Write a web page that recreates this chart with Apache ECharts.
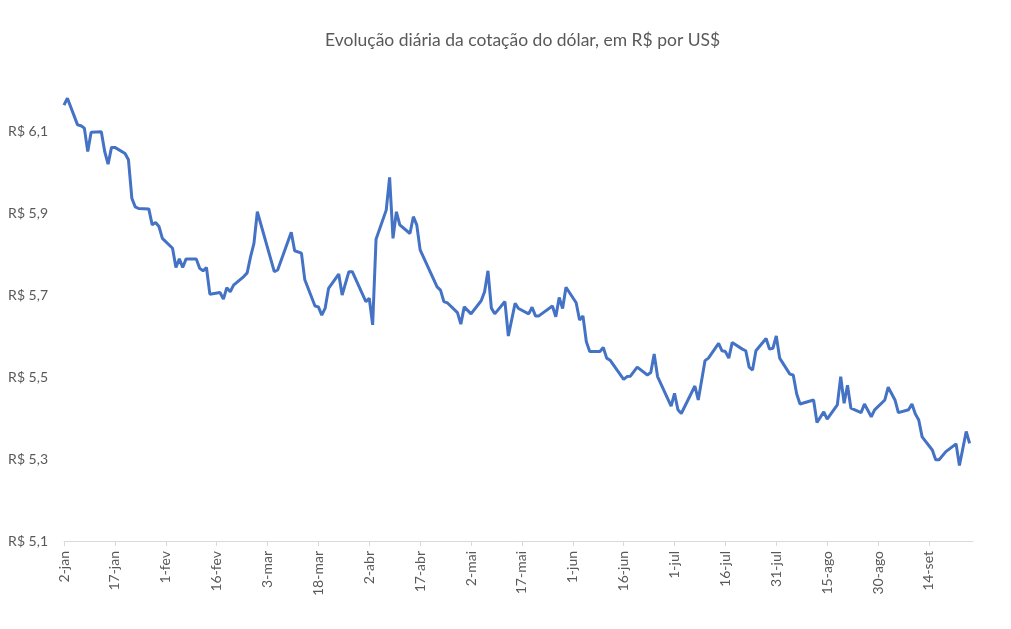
<!DOCTYPE html>
<html lang="pt-BR">
<head>
    <meta charset="UTF-8">
    <title>Cotação do dólar</title>
    <script src="https://cdn.jsdelivr.net/npm/echarts@6/dist/echarts.min.js"></script>
</head>
<body style="height: 100%; margin: 0; background: #fff;">
<div id="container" style="width: 1011px; height: 629px;"></div>
<script type="text/javascript">

    // datas (dia/mês, 2025) e cotação em R$ por US$
    let dates = [
        '02/01', '03/01', '06/01', '07/01', '08/01', '09/01', '10/01', '13/01', '14/01', '15/01',
        '16/01', '17/01', '20/01', '21/01', '22/01', '23/01', '24/01', '27/01', '28/01', '29/01',
        '30/01', '31/01', '03/02', '04/02', '05/02', '06/02', '07/02', '10/02', '11/02', '12/02',
        '13/02', '14/02', '17/02', '18/02', '19/02', '20/02', '21/02', '24/02', '25/02', '26/02',
        '27/02', '28/02', '05/03', '06/03', '10/03', '11/03', '13/03', '14/03', '17/03', '18/03',
        '19/03', '20/03', '21/03', '24/03', '25/03', '27/03', '28/03', '01/04', '02/04', '03/04',
        '04/04', '07/04', '08/04', '09/04', '10/04', '11/04', '14/04', '15/04', '16/04', '17/04',
        '22/04', '23/04', '24/04', '25/04', '28/04', '29/04', '30/04', '02/05', '05/05', '06/05',
        '07/05', '08/05', '09/05', '12/05', '13/05', '15/05', '16/05', '19/05', '20/05', '21/05',
        '22/05', '26/05', '27/05', '28/05', '29/05', '30/05', '02/06', '03/06', '04/06', '05/06',
        '06/06', '09/06', '10/06', '11/06', '12/06', '16/06', '17/06', '18/06', '20/06', '23/06',
        '24/06', '25/06', '26/06', '30/06', '01/07', '02/07', '03/07', '07/07', '08/07', '10/07',
        '11/07', '14/07', '15/07', '16/07', '17/07', '18/07', '21/07', '22/07', '23/07', '24/07',
        '25/07', '28/07', '29/07', '30/07', '31/07', '01/08', '04/08', '05/08', '06/08', '07/08',
        '11/08', '12/08', '14/08', '15/08', '18/08', '19/08', '20/08', '21/08', '22/08', '25/08',
        '26/08', '28/08', '29/08', '01/09', '02/09', '04/09', '05/09', '08/09', '09/09', '10/09',
        '11/09', '12/09', '15/09', '16/09', '17/09', '19/09', '22/09', '23/09', '25/09', '26/09'
    ];

    let values = [
        6.163, 6.180, 6.115, 6.113, 6.107, 6.050, 6.097, 6.098, 6.050, 6.019,
        6.060, 6.060, 6.045, 6.030, 5.936, 5.915, 5.911, 5.910, 5.871, 5.877,
        5.867, 5.838, 5.814, 5.767, 5.788, 5.767, 5.788, 5.788, 5.765, 5.759,
        5.767, 5.702, 5.706, 5.690, 5.718, 5.708, 5.724, 5.745, 5.754, 5.793,
        5.826, 5.903, 5.757, 5.761, 5.853, 5.808, 5.802, 5.737, 5.673, 5.671,
        5.651, 5.668, 5.716, 5.751, 5.700, 5.757, 5.757, 5.684, 5.692, 5.627,
        5.836, 5.907, 5.987, 5.838, 5.903, 5.871, 5.850, 5.891, 5.871, 5.810,
        5.720, 5.712, 5.684, 5.681, 5.657, 5.629, 5.671, 5.654, 5.686, 5.708,
        5.759, 5.668, 5.654, 5.684, 5.600, 5.680, 5.667, 5.654, 5.670, 5.649,
        5.649, 5.673, 5.647, 5.694, 5.667, 5.719, 5.681, 5.639, 5.649, 5.586,
        5.562, 5.562, 5.572, 5.546, 5.541, 5.494, 5.501, 5.502, 5.524, 5.505,
        5.511, 5.556, 5.501, 5.429, 5.460, 5.420, 5.411, 5.478, 5.444, 5.540,
        5.546, 5.582, 5.564, 5.562, 5.546, 5.584, 5.568, 5.564, 5.524, 5.517,
        5.564, 5.594, 5.568, 5.570, 5.600, 5.546, 5.507, 5.505, 5.459, 5.434,
        5.444, 5.389, 5.415, 5.397, 5.432, 5.501, 5.436, 5.480, 5.424, 5.413,
        5.434, 5.403, 5.420, 5.444, 5.475, 5.444, 5.413, 5.420, 5.434, 5.410,
        5.395, 5.354, 5.322, 5.298, 5.298, 5.318, 5.337, 5.284, 5.367, 5.338
    ];

    // rótulos do eixo horizontal (a cada 15 dias)
    let tickLabels = ['2-jan', '17-jan', '1-fev', '16-fev', '3-mar', '18-mar', '2-abr', '17-abr', '2-mai',
        '17-mai', '1-jun', '16-jun', '1-jul', '16-jul', '31-jul', '15-ago', '30-ago', '14-set'];

    // rótulos do eixo vertical
    let yTicks = [5.1, 5.3, 5.5, 5.7, 5.9, 6.1];

    let months = ['jan', 'fev', 'mar', 'abr', 'mai', 'jun', 'jul', 'ago', 'set', 'out', 'nov', 'dez'];
    let start = Date.UTC(2025, 0, 2);

    function dayOf(d, m) {
        return (Date.UTC(2025, m - 1, d) - start) / 86400000;
    }

    let seriesData = dates.map(function (s, i) {
        let p = s.split('/');
        return [dayOf(+p[0], +p[1]), values[i]];
    });

    let tickDays = tickLabels.map(function (s) {
        let p = s.split('-');
        return dayOf(+p[0], months.indexOf(p[1]) + 1);
    });

    let textColor = '#595959';
    let font = 'Lato, "Open Sans", sans-serif';

    let chart = echarts.init(document.getElementById('container'));
    chart.setOption({
        animation: false,
        title: {
            text: 'Evolução diária da cotação do dólar, em R$ por US$',
            left: 320,
            top: 26,
            textStyle: {color: textColor, fontSize: 17.5, fontWeight: 'normal', fontFamily: font}
        },
        grid: {left: 64, right: 38, top: 90, bottom: 88},
        xAxis: {
            type: 'value',
            min: 0,
            max: 268,
            splitLine: {show: false},
            axisLine: {show: true, lineStyle: {color: '#d9d9d9', width: 1}},
            axisTick: {show: true, length: 5, customValues: tickDays, lineStyle: {color: '#d9d9d9'}},
            axisLabel: {
                customValues: tickDays,
                rotate: 90,
                margin: 10,
                color: textColor,
                fontSize: 14,
                fontFamily: font,
                formatter: function (v) {
                    let i = tickDays.indexOf(v);
                    return i >= 0 ? tickLabels[i] : '';
                }
            }
        },
        yAxis: {
            type: 'value',
            min: 5.1,
            max: 6.2,
            splitLine: {show: false},
            axisLine: {show: false},
            axisTick: {show: false},
            axisLabel: {
                customValues: yTicks,
                margin: 16,
                color: textColor,
                fontSize: 14,
                fontFamily: font,
                formatter: function (v) {
                    return 'R$ ' + v.toFixed(1).replace('.', ',');
                }
            }
        },
        series: [{
            type: 'line',
            data: seriesData,
            symbol: 'none',
            lineStyle: {color: '#4472C4', width: 3},
            itemStyle: {color: '#4472C4'}
        }]
    });

</script>
</body>
</html>
